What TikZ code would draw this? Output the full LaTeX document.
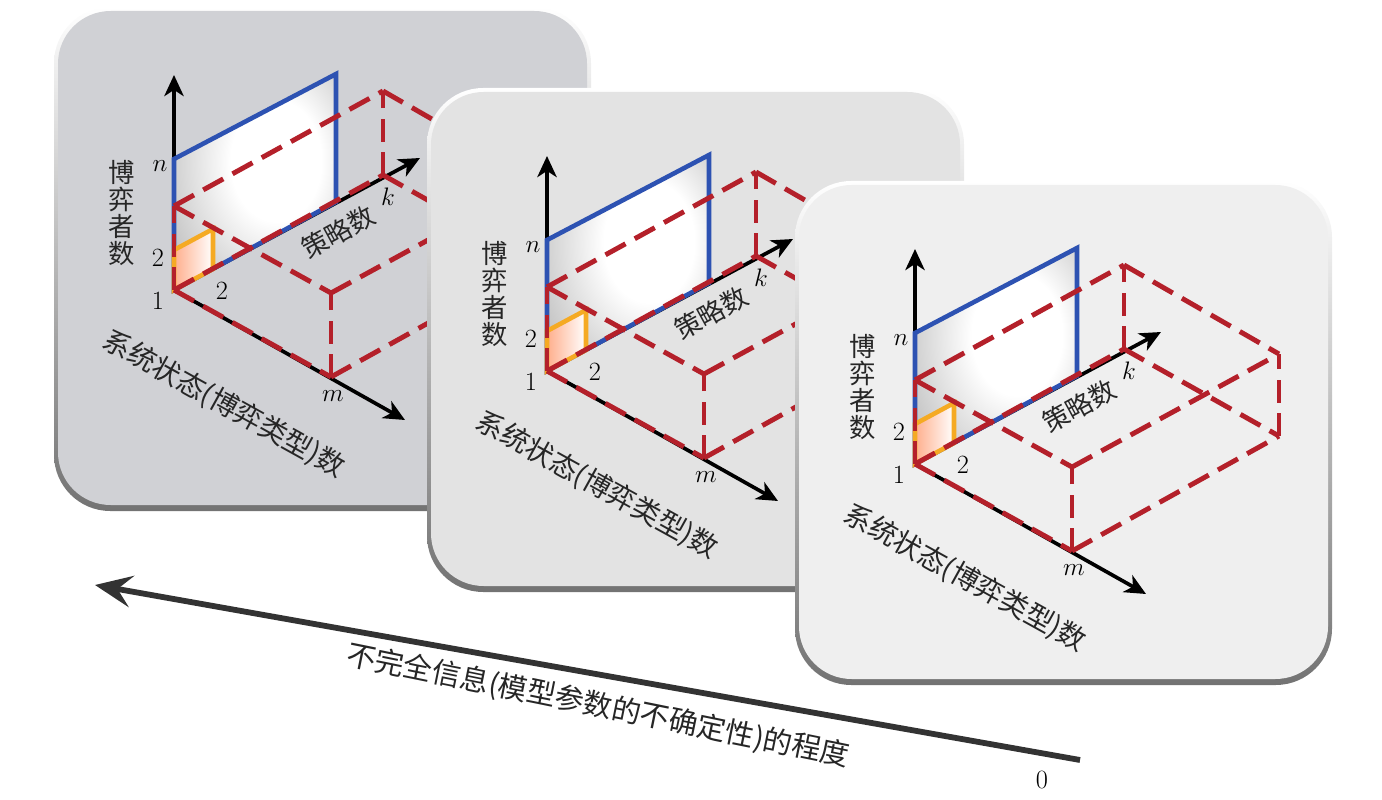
\documentclass[tikz,border=0pt]{standalone}
\usepackage{fontspec}
\newfontfamily\cjk{Noto Sans CJK SC}
\usetikzlibrary{arrows.meta,positioning,calc}

\definecolor{boxred}{RGB}{180,32,42}
\definecolor{planeblue}{RGB}{45,82,178}
\definecolor{cellorange}{RGB}{245,170,35}
\definecolor{panelA}{RGB}{208,209,213}
\definecolor{panelB}{RGB}{227,227,227}
\definecolor{panelC}{RGB}{239,239,239}

\pgfdeclareradialshading{planeglow}{\pgfpoint{8bp}{6bp}}{color(0bp)=(white); color(14bp)=(white); color(45bp)=(black!35); color(75bp)=(black!48)}

\tikzset{
  axis/.style={black, line width=2.1pt, -{Stealth[length=12pt,width=11pt,inset=3.5pt]}},
  boxedge/.style={boxred, line width=2.8pt, dash pattern=on 13pt off 6pt},
  plane/.style={planeblue, line width=2.6pt, line join=miter},
  cell/.style={cellorange, line width=2.6pt},
  tick/.style={font=\fontsize{15}{15}\selectfont},
  cjklabel/.style={font=\cjk\fontsize{15}{15.5}\selectfont, text=black!85},
  bigarrow/.style={black!80, line width=3.3pt, -{Stealth[length=21pt,width=18pt,inset=8pt]}},
}

\begin{document}
\begin{tikzpicture}[x=0.02cm,y=-0.02cm]
  \useasboundingbox (0,0) rectangle (1382,800);

  % three panels, from back to front
  \foreach \ox/\oy/\pc in {174/290/panelA, 547/371/panelB, 915/464/panelC} {
    \begin{scope}[shift={(\ox,\oy)}]
      % panel with rim
      \shade[rounded corners=32pt, top color=white, bottom color=black!55] (-120,-283) rectangle (417,221);
      \fill[\pc, rounded corners=30pt] (-116,-279) rectangle (413,215);

      % corners of the grid
      \coordinate (O) at (0,0);
      \coordinate (H) at (0,-84);
      \coordinate (K) at (209,-115);
      \coordinate (KH) at (209,-199);
      \coordinate (M) at (157,87);
      \coordinate (MH) at (157,3);
      \coordinate (MK) at (364,-28);
      \coordinate (MKH) at (364,-110);
      % blue plane and small cell
      \coordinate (N) at (0,-131);
      \coordinate (B) at (162,-88);
      \coordinate (BN) at (162,-216);
      \coordinate (CU) at (0,-40);
      \coordinate (CK) at (39,-21);
      \coordinate (CUK) at (39,-61);

      % axes
      \coordinate (upend) at (0,-215);
      \coordinate (kend) at (246,-132);
      \coordinate (mend) at (231,130);
      \draw[axis] (O) -- (upend);
      \draw[axis] (O) -- (kend);
      \draw[axis] (O) -- (mend);

      % players x strategies plane
      \shade[shading=planeglow] (O) -- (N) -- (BN) -- (B) -- cycle;
      \draw[plane] (O) -- (N) -- (BN) -- (B) -- cycle;

      % one cell
      \shade[left color=red!40!orange!45, right color=white] (O) -- (CU) -- (CUK) -- (CK) -- cycle;
      \draw[cell] (O) -- (CU) -- (CUK) -- (CK) -- cycle;

      % dashed box
      \foreach \a/\b in {O/H, O/K, O/M, H/KH, H/MH, K/KH, M/MH, KH/MKH, MH/MKH, K/MK, M/MK, MK/MKH}
        \draw[boxedge] (\a) -- (\b);

      % labels
      \node[tick] (nlab) at (-14,-124) {$n$};
      \node[tick] (klab) at (214,-93) {$k$};
      \node[tick] (mlab) at (159,106) {$m$};
      \node[tick] (one) at (-16,11) {1};
      \node[tick] (twoup) at (-16,-32) {2};
      \node[tick] (twok) at (48,1) {2};
      \node[cjklabel, align=center] (players) at (-52,-77) {博\\弈\\者\\数};
      \node[cjklabel, rotate=28.6] (strategies) at (164,-58) {策略数};
      \node[cjklabel, rotate=-29, font=\cjk\fontsize{16}{16}\selectfont] (states) at (50,114) {系统状态(博弈类型)数};
    \end{scope}
  }

  % degree of incomplete information
  \coordinate (lowend) at (1080,760);
  \coordinate (highend) at (95,585);
  \draw[bigarrow] (lowend) -- (highend);
  \node[tick] (zero) at (1042,780) {0};
  \node[cjklabel, rotate=-11.5, font=\cjk\fontsize{16.5}{16.5}\selectfont] (degree) at (598,706) {不完全信息(模型参数的不确定性)的程度};
\end{tikzpicture}
\end{document}
